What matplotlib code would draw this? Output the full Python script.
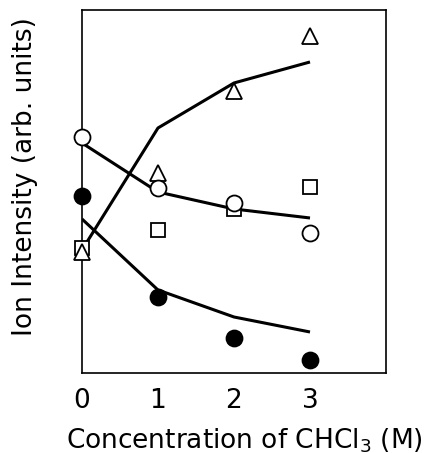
import matplotlib
matplotlib.use("Agg")
from matplotlib import pyplot as plt

# x positions: concentration of CHCl3 (M)
conc = [0, 1, 2, 3]

# measured points (arb. units)
open_circle = [236, 185, 170, 140]
filled_circle = [177, 76, 35, 13]
triangle = [121, 200, 282, 337]
square = [125, 143, 164, 186]

# calculated curves
fit_triangle = [123, 245, 290, 311]
fit_open = [230, 181, 164, 155]
fit_filled = [154, 83, 56, 41]

fig = plt.figure(figsize=(4.27, 4.53), dpi=100)
ax = fig.add_axes([0.192, 0.1766, 0.712, 0.8014])

for fit in (fit_triangle, fit_open, fit_filled):
    ax.plot(conc, fit, c='k', lw=2.2, zorder=2, solid_capstyle='butt')

mk = dict(ls='none', clip_on=False, zorder=3, mec='k', mew=1.3)
ax.plot(conc, square, marker='s', ms=10.5, mfc='white', **mk)
ax.plot(conc, triangle, marker='^', ms=11, mfc='white', **mk)
ax.plot(conc, open_circle, marker='o', ms=11.5, mfc='white', **mk)
ax.plot(conc, filled_circle, marker='o', ms=11.5, mfc='k', **mk)

ax.set_xlim(0, 4)
ax.set_ylim(0, 363)
ax.set_xticks(conc)
ax.set_xticklabels([str(c) for c in conc])
ax.set_yticks([])
ax.tick_params(axis='x', length=0, pad=11, labelsize=19)
for s in ax.spines.values():
    s.set_linewidth(1.2)

ax.set_xlabel("Concentration of CHCl$_3$ (M)", fontsize=19)
ax.set_ylabel("Ion Intensity (arb. units)", fontsize=19)
ax.xaxis.set_label_coords(0.536, -0.146)
ax.yaxis.set_label_coords(-0.145, 0.541)

fig.savefig("out.png", dpi=100)
